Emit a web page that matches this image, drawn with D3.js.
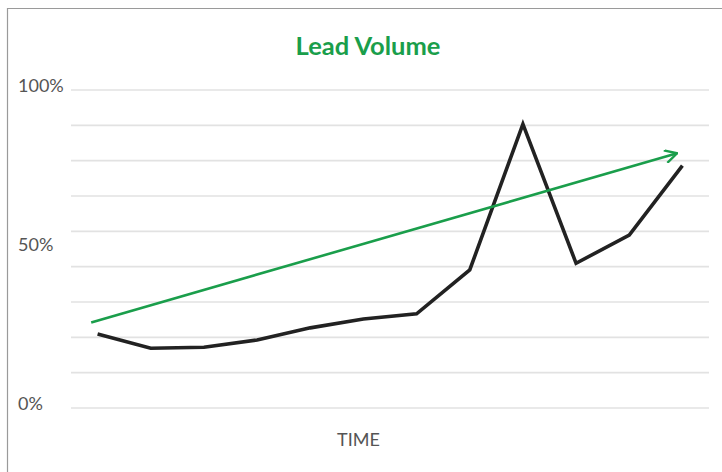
<!DOCTYPE html>
<html>
<head>
<meta charset="utf-8">
<script src="https://cdn.jsdelivr.net/npm/d3@7"></script>
<style>
  body { margin: 0; background: #fff; }
  text { font-family: Lato, "Open Sans", sans-serif; }
</style>
</head>
<body>
<div id="vis"><svg></svg></div>
<script>
// data (percent of max)
var periods = [1, 2, 3, 4, 5, 6, 7, 8, 9, 10, 11, 12];
var leadVolume = [23.3, 18.8, 19.1, 21.4, 25.2, 28, 29.6, 43.4, 89.3, 45.5, 54.4, 76.2];
// trend arrow: start and end, in period units
var trendPeriods = [0.88, 11.9];
var trendValues = [26.9, 80.1];
var gridValues = d3.range(10).map(function(i){ return i * 100 / 9; });
var tickLabels = [0, 50, 100];

var W = 722, H = 472;
var margin = {top: 90, right: 13, bottom: 64, left: 71},
    width = W - margin.left - margin.right,
    height = H - margin.top - margin.bottom;

var svg = d3.select("#vis").select("svg")
    .attr("width", W)
    .attr("height", H);

// box edges (left and top only visible)
svg.append("path")
    .attr("d", "M7.5," + H + "V8.5H" + W)
    .attr("fill", "none")
    .attr("stroke", "#9a9a9a")
    .attr("stroke-width", 1.2);

svg.append("text")
    .attr("x", 368)
    .attr("y", 55)
    .attr("text-anchor", "middle")
    .attr("font-size", 25.5)
    .attr("font-weight", "bold")
    .attr("fill", "#1a9e4b")
    .text("Lead Volume");

var g = svg.append("g")
    .attr("transform", "translate(" + margin.left + "," + margin.top + ")");

var x = d3.scaleLinear()
    .domain([0.5, 12.5])
    .range([0, width]);

var y = d3.scaleLinear()
    .domain([0, 100])
    .range([height, 0]);

// gridlines
g.selectAll(".grid")
    .data(gridValues)
    .enter().append("line")
    .attr("x1", 0)
    .attr("x2", width)
    .attr("y1", function(d){ return y(d); })
    .attr("y2", function(d){ return y(d); })
    .attr("stroke", "#e2e2e2")
    .attr("stroke-width", 1.6);

// y labels
g.selectAll(".ylab")
    .data(tickLabels)
    .enter().append("text")
    .attr("x", 18 - margin.left)
    .attr("y", function(d){ return y(d) + 2; })
    .attr("font-size", 18)
    .attr("fill", "#555")
    .text(function(d){ return d + "%"; });

g.append("text")
    .attr("x", (358.5 - margin.left))
    .attr("y", height + 38)
    .attr("text-anchor", "middle")
    .attr("font-size", 18)
    .attr("fill", "#555")
    .text("TIME");

// line
var line = d3.line()
    .x(function(d, i){ return x(periods[i]); })
    .y(function(d){ return y(d); });

g.append("path")
    .datum(leadVolume)
    .attr("fill", "none")
    .attr("stroke", "#222")
    .attr("stroke-width", 3.6)
    .attr("stroke-linejoin", "miter")
    .attr("d", line);

// trend arrow
svg.append("defs").append("marker")
    .attr("id", "arrow")
    .attr("viewBox", "0 0 14 14")
    .attr("refX", 13)
    .attr("refY", 7)
    .attr("markerWidth", 14)
    .attr("markerHeight", 14)
    .attr("markerUnits", "userSpaceOnUse")
    .attr("orient", "auto")
    .append("path")
    .attr("d", "M1,0.5L13,7L1,13.5")
    .attr("fill", "none")
    .attr("stroke", "#1a9e4b")
    .attr("stroke-width", 2.4);

g.append("path")
    .datum(trendValues)
    .attr("fill", "none")
    .attr("stroke", "#1a9e4b")
    .attr("stroke-width", 2.6)
    .attr("marker-end", "url(#arrow)")
    .attr("d", d3.line()
        .x(function(d, i){ return x(trendPeriods[i]); })
        .y(function(d){ return y(d); }));
</script>
</body>
</html>
